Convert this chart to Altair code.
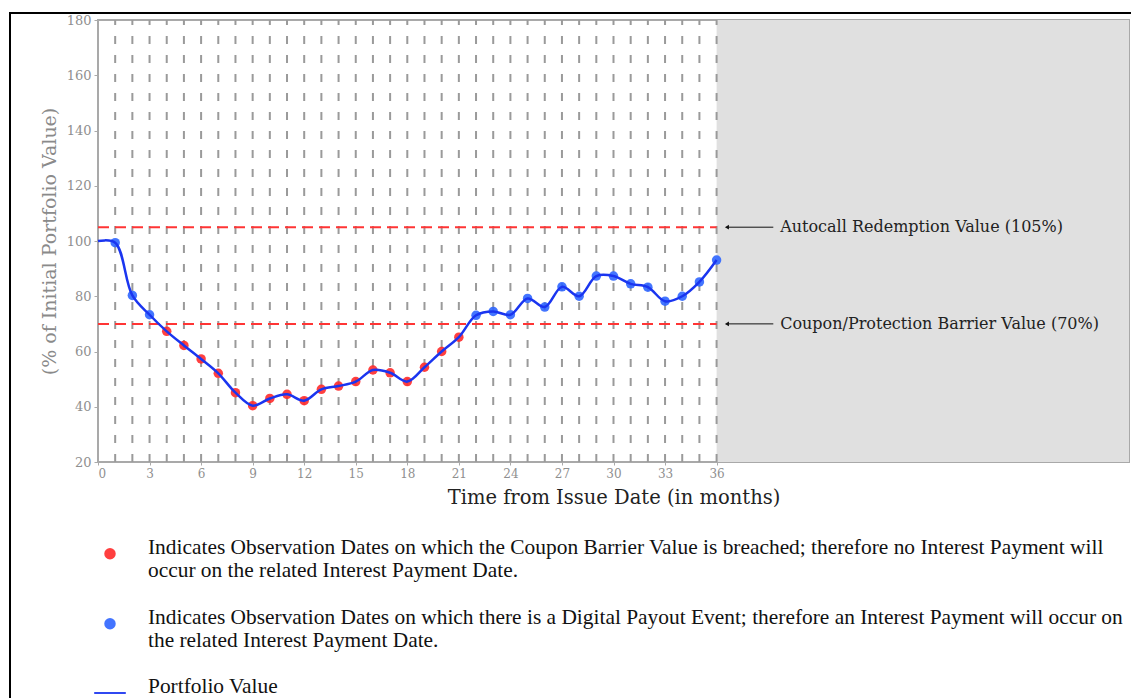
import json
import altair as alt
import pandas as pd

# ---------------- data ----------------
months = list(range(0, 37))
portfolio = [100, 99.4, 80.3, 73.3, 67.3, 62.2, 57.3, 52.1, 45.1, 40.4, 43.0, 44.5,
             42.2, 46.3, 47.5, 49.1, 53.3, 52.3, 49.1, 54.3, 60.0, 65.2, 73.1, 74.5,
             73.3, 79.2, 76.1, 83.4, 80.0, 87.3, 87.3, 84.5, 83.3, 78.2, 80.0, 85.2, 93.1]
barrier_levels = [105, 70]
barrier_labels = ["Autocall Redemption Value (105%)",
                  "Coupon/Protection Barrier Value (70%)"]
coupon_barrier = 70
term_end = 36
x_max = 60
y_min, y_max = 20, 180
x_ticks = list(range(0, 37, 3))
y_ticks = list(range(20, 181, 20))
grid_months = list(range(1, 37))

legend_keys = ["breach", "payout", "line"]
legend_lines = [
    ["Indicates Observation Dates on which the Coupon Barrier Value is breached; therefore no Interest Payment will",
     "occur on the related Interest Payment Date."],
    ["Indicates Observation Dates on which there is a Digital Payout Event; therefore an Interest Payment will occur on",
     "the related Interest Payment Date."],
    ["Portfolio Value"],
]
legend_colors = ["#ff2b2b", "#2f66ff", "#1a35f0"]
legend_shapes = ["circle", "circle", "stroke"]
legend_sizes = [90, 90, 1000]

# ---------------- frames ----------------
line_df = pd.DataFrame({"month": months, "value": portfolio, "kind": "line"})
pts_df = pd.DataFrame({
    "month": months[1:],
    "value": portfolio[1:],
    "kind": ["breach" if v < coupon_barrier else "payout" for v in portfolio[1:]],
})
shade_df = pd.DataFrame({"x0": [term_end], "x1": [x_max], "y0": [y_min], "y1": [y_max]})
grid_df = pd.DataFrame({"month": grid_months, "y0": y_min, "y1": y_max})
bar_df = pd.DataFrame({"level": barrier_levels, "label": barrier_labels,
                       "x0": 0, "x1": term_end,
                       "a0": term_end + 0.6, "a1": term_end + 3.3,
                       "tx": term_end + 3.7})
frame_df = pd.DataFrame({"k": [0]})

# ---------------- scales / axes ----------------
xs = alt.Scale(domain=[0, x_max], nice=False, zero=False)
ys = alt.Scale(domain=[y_min, y_max], nice=False, zero=False)
xaxis = alt.Axis(values=x_ticks, title="Time from Issue Date (in months)", grid=False,
                 labelFont="DejaVu Serif", labelFontSize=12, labelColor="#8f8f8f",
                 tickSize=3, tickColor="#aaaaaa", labelPadding=3, domain=False,
                 titleFont="DejaVu Serif", titleFontSize=19.5, titleFontWeight="normal",
                 titleColor="#222222", titlePadding=9)
yaxis = alt.Axis(values=y_ticks, title="(% of Initial Portfolio Value)", grid=False,
                 labelFont="DejaVu Serif", labelFontSize=13, labelColor="#8f8f8f",
                 tickSize=4, tickColor="#aaaaaa", labelPadding=3, domain=False,
                 titleFont="DejaVu Serif", titleFontSize=19, titleFontWeight="normal",
                 titleColor="#8a8a8a", titlePadding=7)


def X(f):
    return alt.X(f, type="quantitative", scale=xs, axis=xaxis)


def Y(f):
    return alt.Y(f, type="quantitative", scale=ys, axis=yaxis)


label_expr = (
    "datum.label == 'breach' ? " + json.dumps(legend_lines[0]) +
    " : datum.label == 'payout' ? " + json.dumps(legend_lines[1]) +
    " : " + json.dumps(legend_lines[2])
)

legend = alt.Legend(
    title=None, orient="none", legendX=-5, legendY=523, direction="vertical",
    labelExpr=label_expr, labelFont="Liberation Serif", labelFontSize=21.4,
    labelColor="#111111", labelLimit=0, labelBaseline="alphabetic", labelOffset=21,
    symbolStrokeWidth=2, rowPadding=24, padding=0,
)
color_scale = alt.Scale(domain=legend_keys, range=legend_colors)
shape_scale = alt.Scale(domain=legend_keys, range=legend_shapes)
size_scale = alt.Scale(type="ordinal", domain=legend_keys, range=legend_sizes)

# ---------------- layers ----------------
frame = alt.Chart(frame_df).mark_rect(fill=None, stroke="#000000", strokeWidth=2).encode(
    x=alt.value(-88), x2=alt.value(1040), y=alt.value(-7), y2=alt.value(720))

shade = alt.Chart(shade_df).mark_rect(color="#e0e0e0").encode(
    x=X("x0"), x2="x1", y=Y("y0"), y2="y1")

grid = alt.Chart(grid_df).mark_rule(color="#9a9a9a", strokeWidth=2, strokeDash=[8, 11]).encode(
    x=X("month"), y=Y("y0"), y2="y1")

barriers = alt.Chart(bar_df).mark_rule(color="#ff3535", strokeWidth=2, strokeDash=[11, 6]).encode(
    x=X("x0"), x2="x1", y=Y("level"))

arrows = alt.Chart(bar_df).mark_rule(color="#111111", strokeWidth=1).encode(
    x=X("a0"), x2="a1", y=Y("level"))
heads = alt.Chart(bar_df).mark_point(shape="triangle-left", filled=True, color="#111111",
                                     size=22, opacity=1).encode(x=X("a0"), y=Y("level"))
notes = alt.Chart(bar_df).mark_text(align="left", baseline="middle", font="DejaVu Serif",
                                    fontSize=16, color="#222222").encode(
    x=X("tx"), y=Y("level"), text="label:N")

points = alt.Chart(pts_df).mark_point(filled=True, opacity=0.9).encode(
    x=X("month"), y=Y("value"),
    color=alt.Color("kind:N", scale=color_scale, legend=legend),
    shape=alt.Shape("kind:N", scale=shape_scale, legend=legend),
    size=alt.Size("kind:N", scale=size_scale, legend=legend),
)
line = alt.Chart(line_df).mark_line(strokeWidth=2.5, interpolate="catmull-rom").encode(
    x=X("month"), y=Y("value"),
    color=alt.Color("kind:N", scale=color_scale, legend=legend),
)

chart = alt.layer(frame, shade, grid, barriers, arrows, heads, notes, points, line).properties(
    width=1031, height=442,
    padding={"left": 90, "top": 12, "right": 2, "bottom": 236},
    autosize=alt.AutoSizeParams(type="none"),
).configure_view(stroke="#a9a9a9", strokeWidth=2)

chart.save("out.html", embed_options={"renderer": "svg", "actions": False})
